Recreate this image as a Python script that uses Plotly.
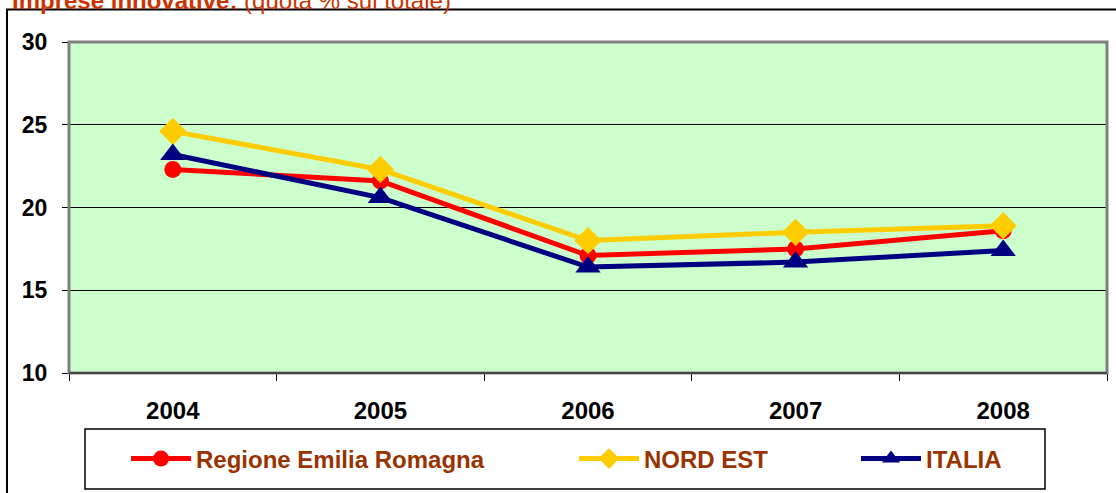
import plotly.graph_objects as go

years = ["2004", "2005", "2006", "2007", "2008"]
emilia = [22.3, 21.6, 17.1, 17.5, 18.6]
nord_est = [24.6, 22.3, 18.0, 18.5, 18.9]
italia = [23.2, 20.6, 16.4, 16.7, 17.4]
y_ticks = [10, 15, 20, 25, 30]

FONT = "Arial, 'Liberation Sans', sans-serif"
W, H = 1116, 493
L, R, T, B = 69, 1107, 42, 373
pw, ph = R - L, B - T


def px(x):
    return (x - L) / pw


def py(y):
    return (B - y) / ph


fig = go.Figure()
series = [
    ("Regione Emilia Romagna", emilia, "#FF0000", "circle", 17, "legend"),
    ("NORD EST", nord_est, "#FFCC00", "diamond", 21, "legend2"),
    ("ITALIA", italia, "#000080", "triangle-up", 22, "legend3"),
]
for name, vals, col, sym, size, lg in series:
    fig.add_trace(go.Scatter(
        x=years, y=vals, name=name, mode="lines+markers",
        line=dict(color=col, width=5),
        marker=dict(color=col, symbol=sym, size=size, line=dict(width=0)),
        legend=lg,
    ))

leg_font = dict(family=FONT, size=24, color="#993300", weight=700)
leg_common = dict(font=leg_font, bgcolor="rgba(0,0,0,0)", borderwidth=0,
                  itemwidth=60, yanchor="middle", xanchor="left", y=py(459))
fig.update_layout(
    width=W, height=H,
    margin=dict(l=L, r=W - R, t=T, b=H - B, pad=0),
    paper_bgcolor="white", plot_bgcolor="#CCFFCC",
    showlegend=True,
    legend=dict(x=px(126), **leg_common),
    legend2=dict(x=px(574), **leg_common),
    legend3=dict(x=px(856), **leg_common),
    xaxis=dict(
        type="category", range=[-0.5, 4.5], tickson="boundaries",
        ticks="outside", ticklen=7, tickcolor="black", tickwidth=1,
        showgrid=False, showline=False, zeroline=False,
        tickfont=dict(family=FONT, size=24, color="black", weight=700),
        ticklabelstandoff=21,
    ),
    yaxis=dict(
        range=[10, 30], tickvals=y_ticks, ticks="outside", ticklen=6,
        tickcolor="black", tickwidth=1,
        showgrid=True, gridcolor="black", gridwidth=1,
        showline=False, zeroline=False,
        tickfont=dict(family=FONT, size=23, color="black", weight=700),
        ticklabelstandoff=10,
    ),
    shapes=[
        # plot area border
        dict(type="rect", xref="paper", yref="paper", x0=0, x1=1, y0=0, y1=1,
             line=dict(color="#808080", width=3), layer="above"),
        dict(type="line", xref="paper", yref="paper", x0=0, x1=1, y0=0, y1=0,
             line=dict(color="#333333", width=1.5), layer="above"),
        # legend box
        dict(type="rect", xref="paper", yref="paper",
             x0=px(85), x1=px(1045), y0=py(489), y1=py(429),
             line=dict(color="black", width=1.5), layer="above"),
        # outer chart frame
        dict(type="rect", xref="paper", yref="paper",
             x0=px(7), x1=px(1130), y0=py(510), y1=py(9.5),
             line=dict(color="black", width=2), layer="above"),
    ],
    annotations=[
        dict(xref="paper", yref="paper", x=px(10), y=py(16), xanchor="left",
             yanchor="bottom", showarrow=False,
             text="<b>Imprese innovative:</b> (quota % sul totale)",
             font=dict(family=FONT, size=24, color="#CC3300")),
    ],
)

fig.write_html("out.html", config={"displayModeBar": False},
               post_script="document.body.style.margin='0px';")
